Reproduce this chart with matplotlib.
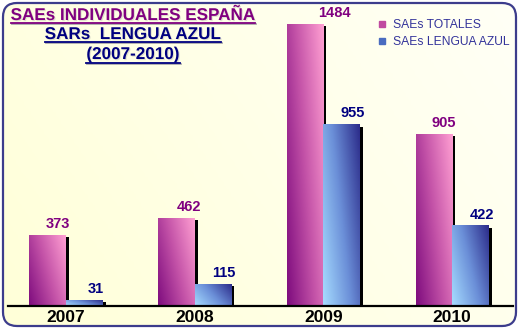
import numpy as np
import matplotlib
matplotlib.use("Agg")
import matplotlib.pyplot as plt
from matplotlib.colors import LinearSegmentedColormap
from matplotlib.patches import FancyBboxPatch, Rectangle
from matplotlib.lines import Line2D
from matplotlib.transforms import ScaledTranslation
import matplotlib.patheffects as pe

plt.rcParams["font.family"] = ["Liberation Sans", "DejaVu Sans"]

# data
years = ["2007", "2008", "2009", "2010"]
saes_totales = [373, 462, 1484, 905]
saes_lengua_azul = [31, 115, 955, 422]
series_labels = ["SAEs TOTALES", "SAEs LENGUA AZUL"]

W, H = 520, 330
fig = plt.figure(figsize=(W / 100, H / 100), dpi=100)
fig.patch.set_facecolor("white")

# background panel with rounded border (pixel coordinates)
bg = fig.add_axes([0, 0, 1, 1], zorder=0)
bg.set_xlim(0, W)
bg.set_ylim(H, 0)
bg.axis("off")
frame = FancyBboxPatch((3, 3), 513, 323, boxstyle="round,pad=0,rounding_size=14",
                       facecolor="none", edgecolor="#3c3c8c", lw=1.6, zorder=5)
bg.add_patch(frame)
gx, gy = np.meshgrid(np.linspace(0, 1, 200), np.linspace(0, 1, 120))
bg_cmap = LinearSegmentedColormap.from_list("bg", ["#ffffd8", "#fffff6"])
im = bg.imshow(0.7 * gx + 0.3 * (1 - gy), cmap=bg_cmap, extent=(3, 516, 326, 3),
               aspect="auto", zorder=1)
im.set_clip_path(frame)

# main chart
ax = fig.add_axes([8 / W, 24 / H, 505 / W, 296 / H], zorder=2)
ax.patch.set_alpha(0)
for s in ax.spines.values():
    s.set_visible(False)

x = np.arange(len(years))
bw = 0.284
pink_cmap = LinearSegmentedColormap.from_list("pink", ["#7e0c7e", "#c453a8", "#ff9fd2"])
blue_cmap = LinearSegmentedColormap.from_list("blue", ["#a6dcff", "#6b8fd8", "#2c2c8a"])

bars_t = ax.bar(x - bw / 2, saes_totales, bw, color="none", zorder=3)
bars_l = ax.bar(x + bw / 2, saes_lengua_azul, bw, color="none", zorder=3)

shadow_tr = ax.transData + ScaledTranslation(3 / 100, -2 / 100, fig.dpi_scale_trans)
gxx, gyy = np.meshgrid(np.linspace(0, 1, 60), np.linspace(0, 1, 60))
grad = 0.65 * gxx + 0.35 * gyy


def paint(bars, cmap):
    for r in bars:
        x0, w, h = r.get_x(), r.get_width(), r.get_height()
        ax.add_patch(Rectangle((x0, 0), w, h, facecolor="black", transform=shadow_tr,
                               zorder=2))
        ax.imshow(grad, cmap=cmap, extent=(x0, x0 + w, 0, h), origin="lower",
                  aspect="auto", vmin=0, vmax=1, zorder=3)


paint(bars_t, pink_cmap)
paint(bars_l, blue_cmap)

ax.set_xlim(-0.451, 3.473)
ax.set_ylim(0, 1558)
ax.axhline(0, color="black", lw=1.6, zorder=4, clip_on=False)
ax.set_yticks([])
ax.set_xticks(x, years)
ax.tick_params(axis="x", length=0, pad=3, labelsize=12.5)
for t in ax.get_xticklabels():
    t.set_fontweight("bold")

# value labels (pink ones shifted like the original)
pink_dx = [7, 9, 21, 7]
for r, v, dx in zip(bars_t, saes_totales, pink_dx):
    ax.annotate(str(v), (r.get_x() + r.get_width() / 2, v), xytext=(dx, 3),
                textcoords="offset points", ha="center", va="bottom",
                fontsize=10.5, fontweight="bold", color="#800080", clip_on=False)
for r, v in zip(bars_l, saes_lengua_azul):
    ax.annotate(str(v), (r.get_x() + r.get_width() / 2, v), xytext=(8, 3),
                textcoords="offset points", ha="center", va="bottom",
                fontsize=10.5, fontweight="bold", color="#000080", clip_on=False)

# legend
handles = [Line2D([], [], marker="s", ls="none", markersize=4.5, color="#c04aa0"),
           Line2D([], [], marker="s", ls="none", markersize=4.5, color="#4a6cc0")]
ax.legend(handles, series_labels, loc="upper left", bbox_to_anchor=(377 / W, 1 - 19 / H),
          bbox_transform=fig.transFigure, frameon=False, fontsize=8.7,
          labelcolor="#33339a", handlelength=0.8, handletextpad=0.5,
          labelspacing=0.45, borderpad=0, borderaxespad=0)

# titles with underline
shadow = [pe.SimplePatchShadow(offset=(0.8, -0.8), shadow_rgbFace="#aaaaaa", alpha=0.35),
          pe.Normal()]
titles = [("SAEs INDIVIDUALES ESPAÑA", 15.5, 23, "#800080"),
          ("SARs  LENGUA AZUL", 34.5, 42, "#000080"),
          ("(2007-2010)", 54.5, 63, "#000080")]
texts = []
for s, yc, yl, col in titles:
    t = bg.text(133, yc, s, ha="center", va="center", fontsize=12.3,
                fontweight="bold", color=col, path_effects=shadow, zorder=6)
    texts.append((t, yl, col))

fig.canvas.draw()
renderer = fig.canvas.get_renderer()
inv = bg.transData.inverted()
for t, yl, col in texts:
    bb = t.get_window_extent(renderer)
    xa = inv.transform((bb.x0, 0))[0]
    xb = inv.transform((bb.x1, 0))[0]
    bg.plot([xa + 1, xb + 1], [yl + 1, yl + 1], color="#aaaaaa", lw=1.3, zorder=5)
    bg.plot([xa, xb], [yl, yl], color=col, lw=1.3, zorder=6)

fig.savefig("out.png", dpi=100)
